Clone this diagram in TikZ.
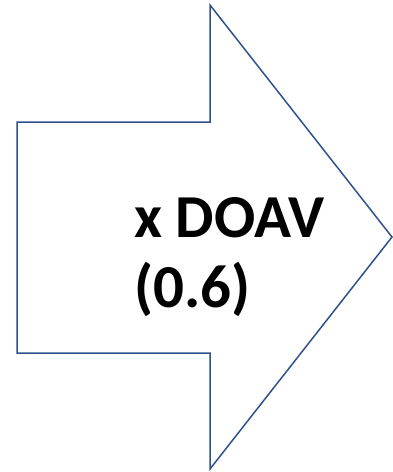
\documentclass[tikz,border=0pt]{standalone}
\usepackage{fontspec}
\setmainfont{Carlito}
\definecolor{arrowblue}{HTML}{2F528F}
\begin{document}
\begin{tikzpicture}[x=1pt,y=-1pt,
  arrowline/.style={draw=arrowblue,line width=1.5pt,line join=miter},
  lbl/.style={font=\bfseries\fontsize{61}{70}\selectfont,anchor=base west,inner sep=0pt}]
\useasboundingbox (0,0) rectangle (392,472);
\coordinate (a1) at (17,122);
\coordinate (a2) at (210,122);
\coordinate (a3) at (210,5);
\coordinate (tip) at (392,237);
\coordinate (a5) at (210,469);
\coordinate (a6) at (210,353);
\coordinate (a7) at (17,353);
\draw[arrowline] (a1) -- (a2) -- (a3) -- (tip) -- (a5) -- (a6) -- (a7) -- cycle;
\node[lbl] (t1) at (134,237) {x DOAV};
\node[lbl] (t2) at (134,307) {(0.6)};
\end{tikzpicture}
\end{document}
